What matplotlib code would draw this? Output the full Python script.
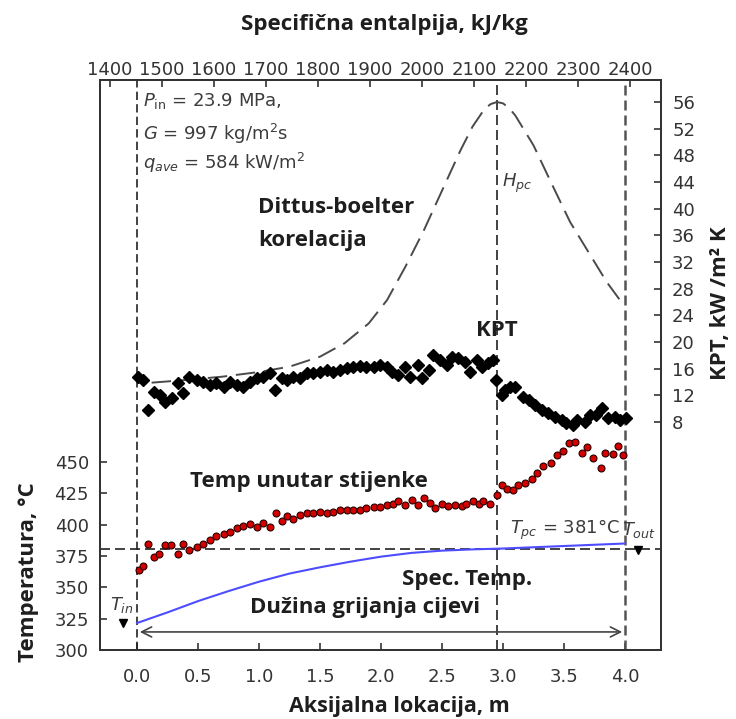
import matplotlib.pyplot as plt
import numpy as np

# measured heat transfer coefficient (KPT), kW/m2K vs axial location, m
z_htc = [0.01, 0.05, 0.09, 0.14, 0.19, 0.23, 0.29, 0.34, 0.38, 0.43, 0.49, 0.54, 0.60, 0.65,
         0.71, 0.76, 0.82, 0.87, 0.93, 0.98, 1.03, 1.09, 1.13, 1.19, 1.23, 1.28, 1.34, 1.39,
         1.44, 1.50, 1.56, 1.61, 1.66, 1.72, 1.77, 1.83, 1.88, 1.94, 1.99, 2.05, 2.09, 2.14,
         2.20, 2.24, 2.30, 2.34, 2.39, 2.43, 2.48, 2.54, 2.58, 2.63, 2.69, 2.73, 2.79, 2.83,
         2.88, 2.92, 2.94, 2.99, 3.02, 3.06, 3.10, 3.16, 3.21, 3.26, 3.32, 3.37, 3.43, 3.48,
         3.52, 3.57, 3.61, 3.67, 3.71, 3.76, 3.81, 3.86, 3.92, 3.96, 4.01]
htc = [14.8, 14.3, 9.8, 12.5, 12.0, 11.0, 11.6, 13.8, 12.3, 14.7, 14.3, 14.0, 13.5, 13.8,
       13.2, 14.0, 13.5, 13.2, 14.0, 14.6, 14.8, 15.3, 12.8, 14.6, 14.3, 14.8, 14.6, 15.3,
       15.3, 15.5, 15.8, 15.5, 15.8, 16.1, 16.3, 16.4, 16.3, 16.3, 16.5, 16.3, 15.5, 15.0,
       16.3, 14.8, 16.5, 14.6, 15.8, 18.0, 17.3, 16.5, 17.7, 17.6, 17.0, 15.5, 17.3, 16.3,
       16.8, 17.3, 14.3, 12.0, 12.8, 13.2, 13.2, 11.7, 11.3, 10.5, 9.8, 9.3, 8.8, 8.3,
       7.9, 7.6, 8.3, 8.0, 9.0, 9.0, 10.1, 8.6, 8.8, 8.3, 8.6]

# inner wall temperature, deg C
z_wall = [0.02, 0.05, 0.09, 0.14, 0.18, 0.23, 0.28, 0.34, 0.38, 0.43, 0.49, 0.54, 0.60, 0.65,
          0.71, 0.76, 0.82, 0.87, 0.93, 0.98, 1.03, 1.09, 1.14, 1.19, 1.23, 1.28, 1.34, 1.39,
          1.44, 1.50, 1.56, 1.61, 1.66, 1.72, 1.77, 1.83, 1.88, 1.94, 1.99, 2.05, 2.10, 2.14,
          2.20, 2.25, 2.30, 2.35, 2.40, 2.44, 2.50, 2.55, 2.61, 2.66, 2.70, 2.75, 2.80, 2.84,
          2.89, 2.95, 2.99, 3.03, 3.08, 3.12, 3.18, 3.24, 3.28, 3.33, 3.39, 3.44, 3.49, 3.54,
          3.59, 3.65, 3.69, 3.74, 3.80, 3.84, 3.90, 3.94, 3.98]
t_wall = [363.8, 367.0, 385.0, 374.0, 377.0, 384.0, 384.0, 377.0, 385.0, 380.0, 382.0, 385.0,
          388.0, 391.0, 392.6, 394.0, 397.0, 399.0, 400.5, 398.0, 401.0, 398.0, 409.0, 403.0,
          407.0, 404.5, 408.0, 409.0, 409.0, 410.0, 409.0, 410.0, 412.0, 411.7, 412.0, 411.7,
          413.0, 414.0, 414.0, 415.7, 416.5, 419.0, 415.7, 419.7, 415.7, 421.0, 417.0, 413.0,
          416.5, 415.0, 415.7, 415.0, 416.5, 419.0, 416.5, 419.0, 416.5, 424.0, 431.7, 428.5,
          427.5, 432.0, 433.5, 436.5, 441.5, 446.5, 449.0, 455.5, 459.0, 465.5, 466.0, 457.5,
          462.0, 453.5, 445.5, 457.5, 456.5, 463.0, 456.0]

# bulk fluid temperature, deg C
z_bulk = [0.0, 0.25, 0.5, 0.75, 1.0, 1.25, 1.5, 1.75, 2.0, 2.25, 2.5, 2.75, 3.0, 3.25, 3.5,
          3.75, 4.0]
t_bulk = [321.5, 330.0, 339.0, 347.0, 354.5, 361.0, 366.0, 370.5, 374.5, 377.5, 379.3, 380.3,
          381.0, 382.0, 383.0, 384.0, 385.0]

# Dittus-Boelter correlation, kW/m2K
z_db = [0.12, 0.4, 0.7, 1.0, 1.25, 1.5, 1.7, 1.9, 2.05, 2.2, 2.35, 2.5, 2.65, 2.75, 2.85,
        2.9, 2.95, 3.0, 3.05, 3.1, 3.25, 3.4, 3.55, 3.7, 3.85, 3.97, 4.0]
htc_db = [13.9, 14.3, 14.8, 15.5, 16.3, 17.8, 19.8, 22.8, 26.3, 31.3, 36.7, 42.7, 48.7, 52.3,
          55.0, 55.7, 56.0, 55.8, 55.1, 54.0, 49.5, 43.7, 38.0, 33.5, 29.0, 26.0, 25.5]

z_ticks = [0.0, 0.5, 1.0, 1.5, 2.0, 2.5, 3.0, 3.5, 4.0]
t_ticks = [300, 325, 350, 375, 400, 425, 450]
htc_ticks = [8, 12, 16, 20, 24, 28, 32, 36, 40, 44, 48, 52, 56]
h_ticks = [1400, 1500, 1600, 1700, 1800, 1900, 2000, 2100, 2200, 2300, 2400]

T_PC = 381
Z_PC = 2.95
Z_END = 4.0
T_IN = 321.5
T_OUT = 380

LABEL_FONT = ['Open Sans', 'DejaVu Sans']
TICK_COLOR = '#333333'
TEXT_COLOR = '#1e1e1e'
NOTE_COLOR = '#3c3c3c'


def z_to_h(z):
    return 1451.9 + 234.6 * np.asarray(z)


def h_to_z(h):
    return (np.asarray(h) - 1451.9) / 234.6


fig = plt.figure(figsize=(7.36, 7.19), dpi=100)
ax = fig.add_axes([0.1359, 0.0960, 0.7622, 0.7927])
ax2 = ax.twinx()

ax.set_xlim(-0.303, 4.295)
ax.set_ylim(300, 755)
ax2.set_ylim(-26.2, 59.3)

# reference lines
ax.axvline(0, color='#222222', lw=1.2, dashes=(5, 2.5))
ax.axvline(Z_PC, color='#222222', lw=1.2, dashes=(6, 3))
ax.axvline(Z_END, color='#555555', lw=1.8, dashes=(4, 2))
ax.axhline(T_PC, color='#222222', lw=1.2, dashes=(6, 3))

# temperatures
ax.plot(z_bulk, t_bulk, color='#4d4dff', lw=1.5)
ax.plot(z_wall, t_wall, 'o', ms=5, mfc='#d40000', mec='#2a0000', mew=0.8)
ax.plot([-0.115], [T_IN], 'v', color='black', ms=6)
ax.plot([4.11], [T_OUT], 'v', color='black', ms=6)

ax.annotate('', xy=(0, 314.4), xytext=(Z_END, 314.4),
            arrowprops=dict(arrowstyle='<->', color='#444444', lw=1.2,
                            mutation_scale=18))

# heat transfer coefficient
ax2.plot(z_db, htc_db, color='#4a4a4a', lw=1.4, dashes=(10, 4.5))
ax2.plot(z_htc, htc, 'D', color='black', ms=6.5)

# axes styling
for a in (ax, ax2):
    for s in a.spines.values():
        s.set_linewidth(1.4)
        s.set_color('#333333')

ax.set_xticks(z_ticks)
ax.set_xticklabels([f'{v:.1f}' for v in z_ticks])
ax.set_yticks(t_ticks)
ax.tick_params(axis='both', direction='in', length=5, width=1.2, labelsize=13,
               colors=TICK_COLOR)
ax.tick_params(axis='x', pad=13)
ax.tick_params(axis='y', pad=8)

ax2.set_yticks(htc_ticks)
ax2.tick_params(axis='y', direction='in', length=5, width=1.2, labelsize=13,
                colors=TICK_COLOR, pad=8)

secax = ax.secondary_xaxis('top', functions=(z_to_h, h_to_z))
secax.set_xticks(h_ticks)
secax.tick_params(direction='in', length=5, width=1.2, labelsize=13, colors=TICK_COLOR, pad=1)
secax.spines['top'].set_linewidth(1.4)

label_kw = dict(fontfamily=LABEL_FONT, fontsize=16, fontweight='bold', color=TEXT_COLOR)
ax.set_xlabel('Aksijalna lokacija, m', fontfamily=LABEL_FONT, fontsize=15.5,
              fontweight='bold', color=TEXT_COLOR)
ax.xaxis.set_label_coords(0.533, -0.080)
ax.set_ylabel('Temperatura, °C', **label_kw)
ax.yaxis.set_label_coords(-0.108, 0.137)
ax2.set_ylabel('KPT, kW /m² K', **label_kw)
ax2.yaxis.set_label_coords(1.088, 0.609)
secax.set_xlabel('Specifična entalpija, kJ/kg', **label_kw)
secax.xaxis.set_label_coords(0.506, 1.088, transform=ax.transAxes)

# annotations
note_kw = dict(transform=ax.transAxes, fontsize=13, color=NOTE_COLOR, va='center')
ax.text(0.077, 0.963, r'$P_{\mathrm{in}}$ = 23.9 MPa,', **note_kw)
ax.text(0.077, 0.905, r'$G$ = 997 kg/m$^2$s', **note_kw)
ax.text(0.077, 0.855, r'$q_{ave}$ = 584 kW/m$^2$', **note_kw)
ax.text(0.717, 0.819, r'$H_{pc}$', **note_kw)
ax.text(0.731, 0.2105, r'$T_{pc}$ = 381°C', **note_kw)
ax.text(0.931, 0.2105, r'$T_{out}$', clip_on=True, **note_kw)
ax.text(0.018, 0.079, r'$T_{in}$', **note_kw)

big_kw = dict(transform=ax.transAxes, fontfamily=LABEL_FONT, fontsize=16,
              fontweight='bold', color=TEXT_COLOR, va='center')
ax.text(0.282, 0.777, 'Dittus-boelter', **big_kw)
ax.text(0.282, 0.719, 'korelacija', **big_kw)
ax.text(0.708, 0.561, 'KPT', ha='center', **big_kw)
ax.text(0.160, 0.295, 'Temp unutar stijenke', **big_kw)
ax.text(0.538, 0.123, 'Spec. Temp.', **big_kw)
ax.text(0.267, 0.074, 'Dužina grijanja cijevi', **big_kw)

fig.savefig('out.png', dpi=100)
